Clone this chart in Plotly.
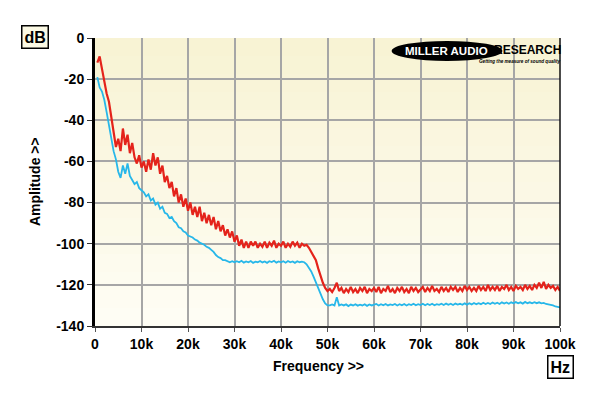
import plotly.graph_objects as go

# Frequency bins (kHz), 0.5 kHz spacing
freq_khz = [i * 0.5 for i in range(1, 201)]

red_db = [
    -12, -9, -15, -22, -27, -31, -38, -47, -53, -49,
    -55, -44, -52, -47, -56, -51, -58, -61, -57, -63,
    -60, -65, -59, -64, -56, -62, -58, -66, -62, -70,
    -67, -73, -70, -77, -73, -80, -76, -82, -78, -84,
    -80, -86, -82, -87, -82, -89, -85, -90, -86, -91,
    -87, -93, -89, -94, -91, -96, -93, -97, -94, -99,
    -96, -101, -98, -102, -99, -102, -99, -101, -99, -102,
    -100, -101.5, -99, -102, -99.5, -101, -98.5, -102, -100, -101,
    -99, -102, -100, -101.5, -99, -101, -99.5, -102, -100, -101,
    -100.5, -102, -104, -106, -108, -112, -116, -119, -121.5, -123,
    -122, -123.5, -121.5, -119, -123, -121.5, -124, -122, -123.5, -121,
    -123.5, -122, -124, -121.5, -123, -121, -124, -122, -123, -121.5,
    -123.5, -121, -124, -122, -123, -120.5, -123.5, -122, -124, -121.5,
    -123, -121, -123.5, -122, -124, -121, -123, -121.5, -123.5, -122,
    -121, -123.5, -121.5, -123, -120.5, -123, -122, -123.5, -121, -123,
    -121.5, -123.5, -121, -122.5, -121, -123.5, -121.5, -123, -120.5, -122.5,
    -121, -123, -121.5, -123, -120.5, -122.5, -121, -123, -120, -122.5,
    -121, -122.5, -120.5, -123, -121, -122, -120, -122.5, -121, -123,
    -120.5, -122, -121, -122.5, -120, -122, -120.5, -122.5, -120, -121.5,
    -119, -121.5, -118.5, -122, -120, -121.5, -120.5, -122.5, -121, -123,
]

blue_db = [
    -19, -24, -26, -30, -36, -42, -48, -55, -59, -65,
    -68, -62, -66, -61, -67, -69, -71, -70, -73, -74,
    -75, -77, -76, -79, -78, -81, -80, -83, -82, -85,
    -85.5, -87.5, -87, -89, -90, -92, -92.5, -94, -94.5, -96,
    -96.5, -97, -98, -98.5, -99.5, -100, -100.5, -101.5, -102, -103,
    -104, -105.5, -106.5, -107, -108, -108, -108.5, -109, -108.5, -109,
    -108.5, -109, -108.3, -109.2, -108.6, -109, -108.4, -109.3, -108.7, -109,
    -108.4, -109.1, -108.6, -109.3, -108.5, -108.9, -108.3, -109.2, -108.6, -109,
    -108.5, -109.2, -108.4, -109, -108.6, -109.3, -108.5, -109, -108.7, -109,
    -110, -111.5, -113.5, -116, -119, -122, -124.5, -127, -129, -130,
    -130, -129.5, -130, -126, -130, -129.5, -130, -129.5, -130.3, -129.6,
    -130, -129.4, -130.1, -129.6, -130, -129.4, -130.2, -129.5, -130, -129.6,
    -129.3, -130, -129.4, -129.9, -129.3, -130, -129.5, -129.8, -129.3, -130,
    -129.4, -129.9, -129.3, -130, -129.4, -129.8, -129.2, -129.9, -129.4, -129.8,
    -129.2, -129.9, -129.3, -129.8, -129.2, -129.9, -129.4, -129.7, -129.2, -129.8,
    -129.1, -129.7, -129.2, -129.8, -129.1, -129.6, -129.2, -129.7, -129, -129.6,
    -128.9, -129.5, -128.8, -129.4, -128.9, -129.4, -128.7, -129.3, -128.8, -129.3,
    -128.6, -129.2, -128.7, -129.3, -128.5, -129.1, -128.6, -129.2, -128.5, -129,
    -128.4, -129, -128.5, -129.1, -128.3, -128.9, -128.5, -129, -128.4, -128.9,
    -128.5, -129, -128.8, -129.3, -129.5, -130, -130, -130.5, -130.8, -131,
]

x_tick_vals = [0, 10, 20, 30, 40, 50, 60, 70, 80, 90, 100]
x_tick_text = ["0", "10k", "20k", "30k", "40k", "50k", "60k", "70k", "80k", "90k", "100k"]
y_tick_vals = [0, -20, -40, -60, -80, -100, -120, -140]
y_tick_text = ["0", "-20", "-40", "-60", "-80", "-100", "-120", "-140"]

FONT = "Arial, Liberation Sans, Helvetica, sans-serif"

fig = go.Figure()
fig.add_trace(go.Scatter(x=freq_khz, y=blue_db, mode="lines",
                         line=dict(color="#27B7E9", width=1.8), showlegend=False))
fig.add_trace(go.Scatter(x=freq_khz, y=red_db, mode="lines",
                         line=dict(color="#E4231B", width=2.2), showlegend=False))

# gradient background bands
shapes = []
n = 16
top = (248, 243, 212)
bot = (254, 253, 244)
for i in range(n):
    t = i / (n - 1)
    c = tuple(round(top[k] + (bot[k] - top[k]) * t) for k in range(3))
    shapes.append(dict(type="rect", xref="paper", yref="paper",
                       x0=0, x1=1, y0=1 - (i + 1) / n, y1=1 - i / n,
                       fillcolor="rgb(%d,%d,%d)" % c, line=dict(width=0), layer="below"))
# right border
shapes.append(dict(type="line", xref="paper", yref="paper", x0=1, x1=1, y0=0, y1=1,
                   line=dict(color="#111111", width=1.5)))
# logo ellipse
shapes.append(dict(type="circle", xref="paper", yref="paper",
                   x0=0.638, x1=0.876, y0=0.920, y1=0.990,
                   fillcolor="black", line=dict(color="black", width=0)))

def ann(text, x, y, size, color="black", **kw):
    d = dict(text=text, x=x, y=y, xref="paper", yref="paper", showarrow=False,
             xanchor="center", yanchor="middle",
             font=dict(family=FONT, size=size, color=color, weight="bold"))
    d.update(kw)
    return d

annotations = [
    ann("MILLER AUDIO", 0.756, 0.955, 11.5, "white"),
    ann("RESEARCH", 0.930, 0.960, 12),
    ann("<i>Getting the measure of sound quality</i>", 0.913, 0.918, 4.6),
    ann("dB", -0.129, 1.004, 16, bgcolor="#FBF9E4", bordercolor="black",
        borderwidth=1.5, borderpad=2),
    ann("Hz", 1.0, -0.143, 16, bgcolor="white", bordercolor="black",
        borderwidth=1.5, borderpad=2),
    ann("Frequency >>", 0.48, -0.139, 14),
    ann("Amplitude >>", -0.129, 0.5, 14, textangle=-90),
]

fig.update_layout(
    width=600, height=396,
    margin=dict(l=95, r=40, t=38, b=70),
    paper_bgcolor="white", plot_bgcolor="#FBF9E6",
    shapes=shapes, annotations=annotations,
    font=dict(family=FONT, color="black"),
)
fig.update_xaxes(range=[0, 100], tickvals=x_tick_vals, ticktext=x_tick_text,
                 showgrid=True, gridcolor="#A6A6A6", gridwidth=1.5,
                 ticks="outside", ticklen=4, tickcolor="#555555",
                 showline=True, linecolor="#333333", linewidth=1.5,
                 tickfont=dict(family=FONT, size=14, color="black", weight="bold"),
                 zeroline=False)
fig.update_yaxes(range=[-140, 0], tickvals=y_tick_vals, ticktext=y_tick_text,
                 showgrid=True, gridcolor="#A6A6A6", gridwidth=1.5,
                 ticks="outside", ticklen=5, tickcolor="#333333",
                 showline=True, linecolor="black", linewidth=3,
                 tickfont=dict(family=FONT, size=14, color="black", weight="bold"),
                 zeroline=False)

fig.write_html("out.html", config={"displayModeBar": False},
               post_script="document.body.style.margin='0px';")
